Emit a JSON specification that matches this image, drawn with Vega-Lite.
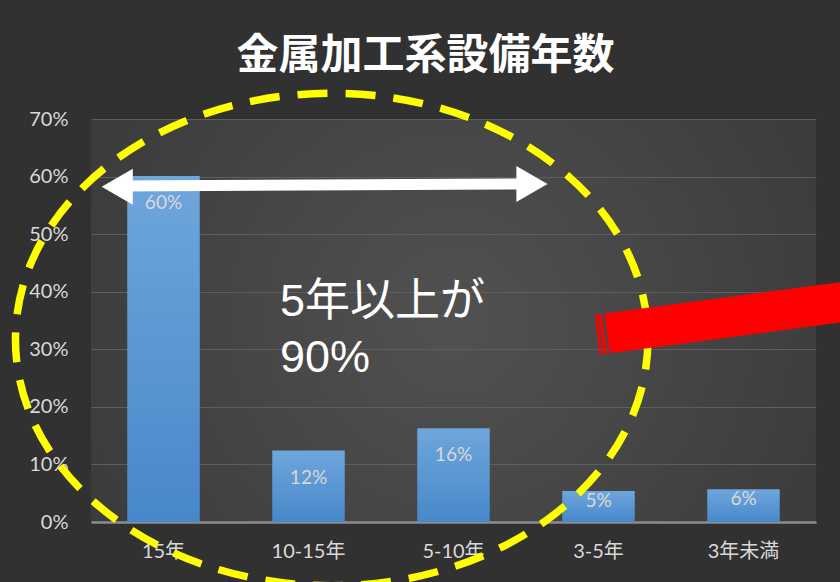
{
  "$schema": "https://vega.github.io/schema/vega-lite/v6.json",
  "width": 725,
  "height": 403,
  "autosize": {"type": "none"},
  "padding": {"left": 91, "top": 119, "right": 24, "bottom": 60},
  "background": "#313131",
  "view": {
    "stroke": null,
    "fill": {
      "gradient": "radial",
      "x1": 0.5, "y1": 0.5, "r1": 0,
      "x2": 0.5, "y2": 0.5, "r2": 0.75,
      "stops": [
        {"offset": 0, "color": "#515151"},
        {"offset": 1, "color": "#343434"}
      ]
    }
  },
  "title": {
    "text": "金属加工系設備年数",
    "font": "Noto Sans CJK JP",
    "fontWeight": "bold",
    "fontSize": 42,
    "color": "#ffffff",
    "anchor": "middle",
    "frame": "group",
    "dx": -28,
    "offset": -33,
    "baseline": "alphabetic"
  },
  "datasets": {
    "bars": [
      {"cat": "15年", "value": 0.601},
      {"cat": "10-15年", "value": 0.124},
      {"cat": "5-10年", "value": 0.163},
      {"cat": "3-5年", "value": 0.054},
      {"cat": "3年未満", "value": 0.057}
    ],
    "circle": [{"ax": 1.66, "ay": 0.317}],
    "red": [
      {"ax": 3.559, "ay": 0.3276, "ax2": 5.372, "ay2": 0.3884, "w": "main"},
      {"ax": 3.490, "ay": 0.3253, "ax2": 3.507, "ay2": 0.3258, "w": "s1"},
      {"ax": 3.517, "ay": 0.3262, "ax2": 3.541, "ay2": 0.3271, "w": "s2"}
    ],
    "shaft": [{"ax": 0.181, "ay": 0.5836, "ax2": 3.041, "ay2": 0.5871}],
    "heads": [
      {"ax": 0.181, "ay": 0.5824, "dir": "left"},
      {"ax": 3.041, "ay": 0.5871, "dir": "right"}
    ],
    "note": [
      {"ax": 1.303, "ay": 0.3578, "t": "5年以上が"},
      {"ax": 1.303, "ay": 0.2606, "t": "90%"}
    ]
  },
  "layer": [
    {
      "data": {"name": "bars"},
      "mark": {
        "type": "bar",
        "opacity": 1,
        "color": {
          "gradient": "linear",
          "x1": 0, "y1": 0, "x2": 0, "y2": 1,
          "stops": [
            {"offset": 0, "color": "#6fa6dc"},
            {"offset": 1, "color": "#4788ca"}
          ]
        }
      },
      "encoding": {
        "x": {
          "field": "cat", "type": "nominal", "sort": null,
          "scale": {"domain": ["15年", "10-15年", "5-10年", "3-5年", "3年未満"], "paddingInner": 0.5, "paddingOuter": 0.25},
          "axis": {
            "title": null, "labelAngle": 0, "ticks": false, "domain": true,
            "domainColor": "#8c8c8c", "domainWidth": 2.5, "grid": false,
            "labelFont": "Lato, Noto Sans CJK JP, sans-serif", "labelFontSize": 20,
            "labelColor": "#d9d9d9", "labelPadding": 19
          }
        },
        "y": {
          "field": "value", "type": "quantitative",
          "scale": {"domain": [0, 0.7], "nice": false},
          "axis": {
            "title": null, "values": [0, 0.1, 0.2, 0.3, 0.4, 0.5, 0.6, 0.7],
            "format": ".0%", "ticks": false, "domain": false, "grid": true,
            "gridColor": "#5e5e5e", "gridWidth": 1,
            "labelFont": "Lato, sans-serif", "labelFontSize": 20,
            "labelColor": "#d9d9d9", "labelPadding": 23
          }
        }
      }
    },
    {
      "data": {"name": "bars"},
      "transform": [{"filter": "datum.value >= 0.1"}],
      "mark": {"type": "text", "baseline": "top", "dy": 18, "font": "Lato, sans-serif", "fontSize": 19, "color": "#d9d9d9"},
      "encoding": {
        "x": {"field": "cat", "type": "nominal", "sort": null,
          "scale": {"domain": ["15年", "10-15年", "5-10年", "3-5年", "3年未満"], "paddingInner": 0.5, "paddingOuter": 0.25},
          "axis": null},
        "y": {"field": "value", "type": "quantitative", "scale": {"domain": [0, 0.7], "nice": false}},
        "text": {"field": "value", "type": "quantitative", "format": ".0%"}
      }
    },
    {
      "data": {"name": "bars"},
      "transform": [{"filter": "datum.value < 0.1"}],
      "mark": {"type": "text", "baseline": "top", "dy": 1, "font": "Lato, sans-serif", "fontSize": 19, "color": "#d9d9d9"},
      "encoding": {
        "x": {"field": "cat", "type": "nominal", "sort": null,
          "scale": {"domain": ["15年", "10-15年", "5-10年", "3-5年", "3年未満"], "paddingInner": 0.5, "paddingOuter": 0.25},
          "axis": null},
        "y": {"field": "value", "type": "quantitative", "scale": {"domain": [0, 0.7], "nice": false}},
        "text": {"field": "value", "type": "quantitative", "format": ".0%"}
      }
    },
    {
      "data": {"name": "circle"},
      "mark": {
        "type": "point",
        "shape": "M1,0C1,0.4301,0.5523,0.7787,0,0.7787C-0.5523,0.7787,-1,0.4301,-1,0C-1,-0.4301,-0.5523,-0.7787,0,-0.7787C0.5523,-0.7787,1,-0.4301,1,0Z",
        "size": 400000,
        "filled": false,
        "opacity": 1,
        "stroke": "#ffff00",
        "strokeWidth": 7.5,
        "strokeDash": [30, 18]
      },
      "encoding": {
        "x": {"field": "ax", "type": "quantitative", "scale": {"domain": [0, 5], "nice": false, "zero": false}, "axis": null},
        "y": {"field": "ay", "type": "quantitative", "scale": {"domain": [0, 0.7], "nice": false}}
      }
    },
    {
      "data": {"name": "shaft"},
      "mark": {"type": "rule", "color": "#ffffff", "strokeWidth": 11, "strokeCap": "butt"},
      "encoding": {
        "x": {"field": "ax", "type": "quantitative", "scale": {"domain": [0, 5], "nice": false, "zero": false}, "axis": null},
        "x2": {"field": "ax2"},
        "y": {"field": "ay", "type": "quantitative", "scale": {"domain": [0, 0.7], "nice": false}},
        "y2": {"field": "ay2"}
      }
    },
    {
      "data": {"name": "heads"},
      "mark": {"type": "point", "filled": true, "opacity": 1, "color": "#ffffff", "size": 1296, "strokeWidth": 0},
      "encoding": {
        "x": {"field": "ax", "type": "quantitative", "scale": {"domain": [0, 5], "nice": false, "zero": false}, "axis": null},
        "y": {"field": "ay", "type": "quantitative", "scale": {"domain": [0, 0.7], "nice": false}},
        "shape": {"field": "dir", "type": "nominal", "scale": {"domain": ["left", "right"], "range": ["triangle-left", "triangle-right"]}, "legend": null}
      }
    },
    {
      "data": {"name": "red"},
      "mark": {"type": "rule", "color": "#ff0000", "strokeWidth": 40, "strokeCap": "butt"},
      "encoding": {
        "x": {"field": "ax", "type": "quantitative", "scale": {"domain": [0, 5], "nice": false, "zero": false}, "axis": null},
        "x2": {"field": "ax2"},
        "y": {"field": "ay", "type": "quantitative", "scale": {"domain": [0, 0.7], "nice": false}},
        "y2": {"field": "ay2"}
      }
    },
    {
      "data": {"name": "note"},
      "mark": {"type": "text", "align": "left", "baseline": "alphabetic", "font": "Liberation Sans, Noto Sans CJK JP, sans-serif", "fontSize": 45, "color": "#ffffff"},
      "encoding": {
        "x": {"field": "ax", "type": "quantitative", "scale": {"domain": [0, 5], "nice": false, "zero": false}, "axis": null},
        "y": {"field": "ay", "type": "quantitative", "scale": {"domain": [0, 0.7], "nice": false}},
        "text": {"field": "t", "type": "nominal"}
      }
    }
  ],
  "resolve": {"scale": {"x": "independent"}, "axis": {"x": "independent"}}
}
